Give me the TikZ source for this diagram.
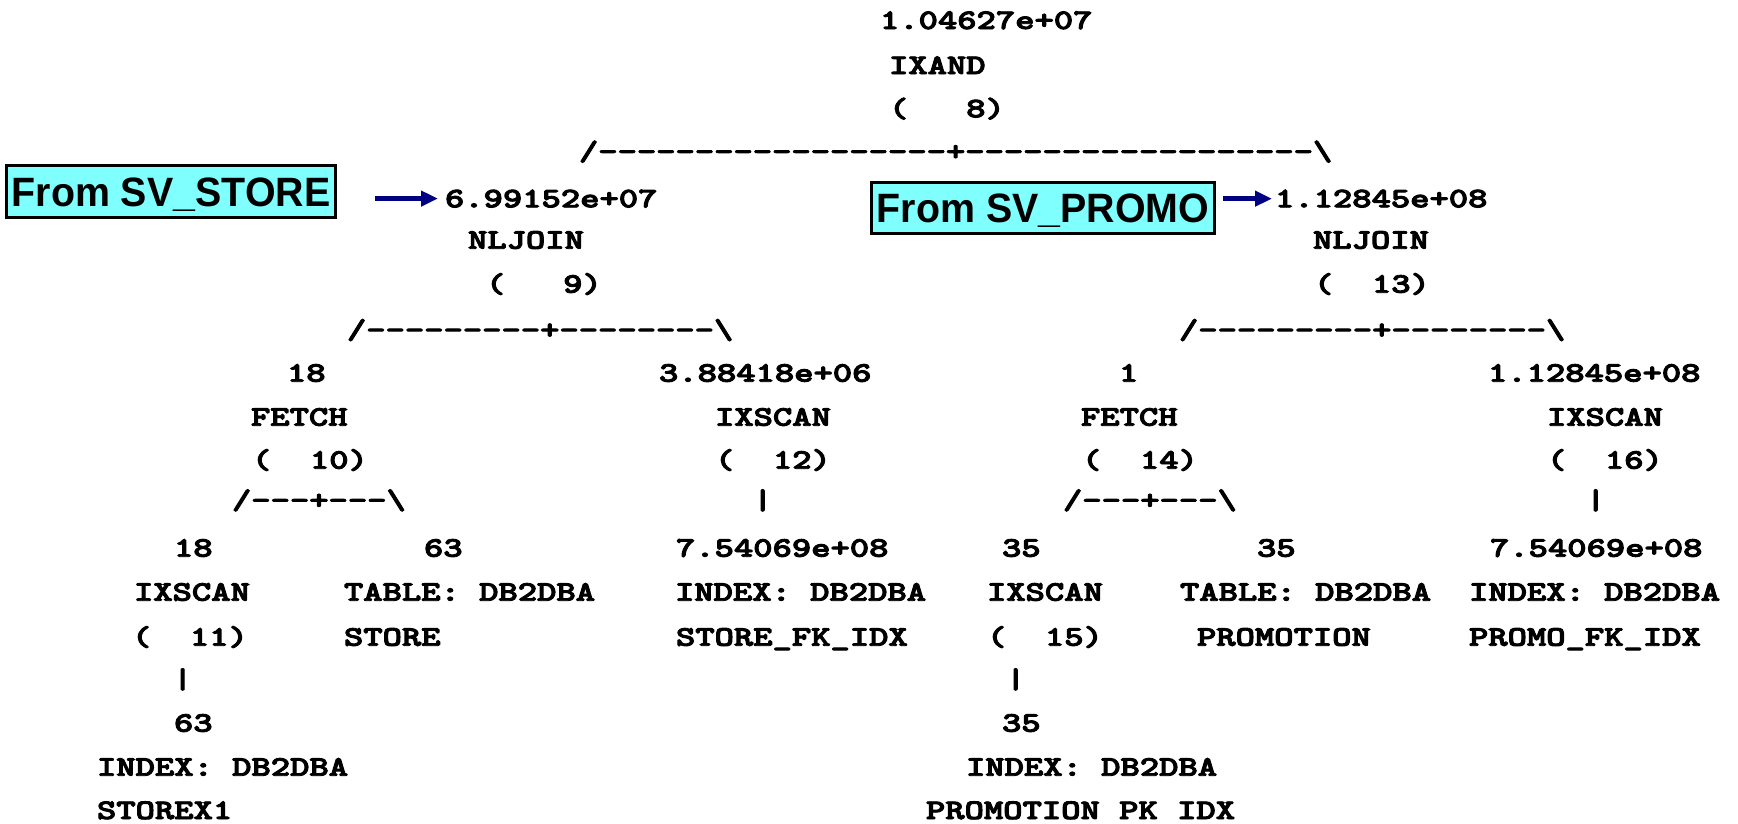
\documentclass[tikz,border=0pt]{standalone}
\usepackage{fontspec}
\usepackage{graphicx}
\setsansfont{Liberation Sans}
\newfontfamily\plainmono[FakeBold=3]{lmmonolt10-bold.otf}
\usetikzlibrary{arrows.meta}
\definecolor{boxcyan}{RGB}{128,255,255}
\definecolor{arrnavy}{RGB}{0,0,128}
\newcommand\T[1]{\scalebox{1.3}[1]{#1}}
\newcommand\B[1]{\scalebox{0.96}[1]{#1}}
\tikzset{
  t/.style={anchor=base west, inner sep=0pt, outer sep=0pt,
    font=\plainmono\fontsize{28.3}{30}\selectfont},
  srcbox/.style={draw=black, line width=3pt, fill=boxcyan, inner sep=0pt,
    text height=29.5pt, text depth=0pt,
    font=\sffamily\bfseries\fontsize{41}{41}\selectfont},
  arr/.style={draw=arrnavy, line width=4.5pt, -{Triangle[length=17pt,width=15pt]}}
}
\begin{document}
\begin{tikzpicture}[x=1pt,y=-1pt]
\useasboundingbox (0,0) rectangle (1738,823);
% top operator
\node[t] (n8a) at (880,29) {\T{1.04627e+07}};
\node[t] (n8b) at (889,74) {\T{IXAND}};
\node[t] (n8c) at (889,117.3) {\T{(~~~8)}};
\node[t] (b8) at (579,160.3) {\T{/------------------+------------------\textbackslash}};
% left NLJOIN
\node[t] (n9a) at (445,207.3) {\T{6.99152e+07}};
\node[t] (n9b) at (468,248.7) {\T{NLJOIN}};
\node[t] (n9c) at (486,292.7) {\T{(~~~9)}};
\node[t] (b9) at (347,338.7) {\T{/---------+--------\textbackslash}};
% right NLJOIN
\node[t] (n13a) at (1275,207.3) {\T{1.12845e+08}};
\node[t] (n13b) at (1313,248.7) {\T{NLJOIN}};
\node[t] (n13c) at (1314,292.7) {\T{(~~13)}};
\node[t] (b13) at (1179,338.7) {\T{/---------+--------\textbackslash}};
% FETCH 10
\node[t] (n10a) at (287,381.7) {\T{18}};
\node[t] (n10b) at (251,425.7) {\T{FETCH}};
\node[t] (n10c) at (252,468.7) {\T{(~~10)}};
\node[t] (b10) at (232,509) {\T{/---+---\textbackslash}};
% IXSCAN 12
\node[t] (n12a) at (659,381.7) {\T{3.88418e+06}};
\node[t] (n12b) at (715,425.7) {\T{IXSCAN}};
\node[t] (n12c) at (715,468.7) {\T{(~~12)}};
\node[t] (b12) at (753,509) {\T{|}};
% FETCH 14
\node[t] (n14a) at (1119,381.7) {\T{1}};
\node[t] (n14b) at (1081,425.7) {\T{FETCH}};
\node[t] (n14c) at (1082,468.7) {\T{(~~14)}};
\node[t] (b14) at (1063,509) {\T{/---+---\textbackslash}};
% IXSCAN 16
\node[t] (n16a) at (1488,381.7) {\T{1.12845e+08}};
\node[t] (n16b) at (1547,425.7) {\T{IXSCAN}};
\node[t] (n16c) at (1547,468.7) {\T{(~~16)}};
\node[t] (b16) at (1586,509) {\T{|}};
% row 13-15
\node[t] (n11a) at (174,556.7) {\T{18}};
\node[t] (n11b) at (134,600.7) {\T{IXSCAN}};
\node[t] (n11c) at (132,645.7) {\T{(~~11)}};
\node[t] (b11) at (173,688) {\T{|}};
\node[t] (s1a) at (424,556.7) {\T{63}};
\node[t] (s1b) at (344,600.7) {\T{TABLE:~DB2DBA}};
\node[t] (s1c) at (344,645.7) {\T{STORE}};
\node[t] (i12a) at (676,556.7) {\T{7.54069e+08}};
\node[t] (i12b) at (675,600.7) {\T{INDEX:~DB2DBA}};
\node[t] (i12c) at (676,645.7) {\T{STORE\_FK\_IDX}};
\node[t] (n15a) at (1002,556.7) {\T{35}};
\node[t] (n15b) at (987,600.7) {\T{IXSCAN}};
\node[t] (n15c) at (987,645.7) {\T{(~~15)}};
\node[t] (b15) at (1006,688) {\T{|}};
\node[t] (p1a) at (1257,556.7) {\T{35}};
\node[t] (p1b) at (1180,600.7) {\T{TABLE:~DB2DBA}};
\node[t] (p1c) at (1197,645.7) {\T{PROMOTION}};
\node[t] (i16a) at (1490,556.7) {\T{7.54069e+08}};
\node[t] (i16b) at (1469,600.7) {\T{INDEX:~DB2DBA}};
\node[t] (i16c) at (1469,645.7) {\T{PROMO\_FK\_IDX}};
% bottom indexes
\node[t] (i11a) at (174,731.7) {\T{63}};
\node[t] (i11b) at (97,775.7) {\T{INDEX:~DB2DBA}};
\node[t] (i11c) at (97,819) {\T{STOREX1}};
\node[t] (i15a) at (1002,731.7) {\T{35}};
\node[t] (i15b) at (966,775.7) {\T{INDEX:~DB2DBA}};
\node[t] (i15c) at (926,819) {\T{PROMOTION PK IDX}};
% annotation boxes
\node[srcbox, minimum width=329pt, minimum height=52pt] (sv1) at (171,191.5) {\B{From SV\_STORE}};
\node[srcbox, minimum width=343pt, minimum height=51pt] (sv2) at (1043,208) {\B{From SV\_PROMO}};
\coordinate (a1s) at (sv1.east |- n9a.west);
\coordinate (a2s) at (sv2.east |- n13a.west);
\draw[arr] ([xshift=38pt]a1s) -- ([xshift=-7pt]n9a.west);
\draw[arr] ([xshift=7pt]a2s) -- ([xshift=-3pt]n13a.west);
\end{tikzpicture}
\end{document}
